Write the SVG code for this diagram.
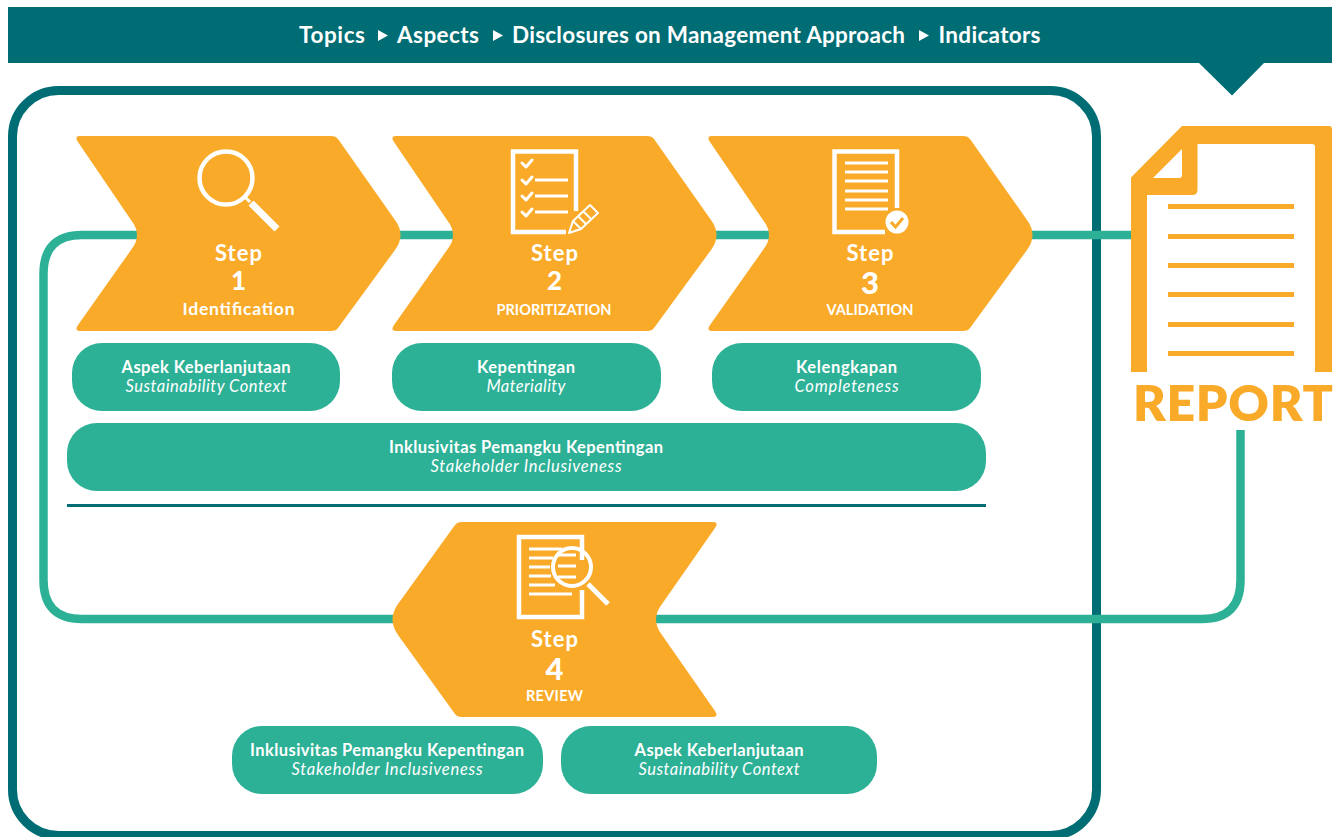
<svg xmlns="http://www.w3.org/2000/svg" width="1339" height="837" viewBox="0 0 1339 837">
<defs>
<style>
text{font-family:"Lato","Liberation Sans",sans-serif;fill:#fff;text-anchor:middle}
.hd{font-size:22.5px;font-weight:700}
.st{font-size:22px;font-weight:700}
.nm{font-size:26px;font-weight:900}
.nb{font-size:31px;font-weight:900}
.lb{font-size:17.5px;font-weight:700}
.lc{font-size:14.5px;font-weight:700}
.pb{font-size:16.5px;font-weight:700}
.pi{font-size:16.5px;font-style:italic}
.chev{fill:#f9aa28}
.pill{fill:#2db196}
.ic{fill:none;stroke:#fff;stroke-width:4.5}
.il{fill:none;stroke:#fff;stroke-width:3}
.ck{fill:none;stroke:#fff;stroke-width:3;stroke-linecap:round;stroke-linejoin:round}
.dl{fill:#f9aa28}
</style>
<path id="chevR" class="chev" d="M80,136H331Q336,136 338,139L395,220Q406,235 395,250L338,328Q336,331 331,331H80Q74,331 78,325L131,250Q143,235 131,220L78,142Q74,136 80,136Z"/>
</defs>
<rect id="frame" x="12.500" y="90.500" width="1084" height="745" rx="46" fill="none" stroke="#006d75" stroke-width="9"/>
<g id="connectors">
<path d="M1135,235H82Q43.500,235 43.500,274V580Q43.500,619 82,619H1202Q1240.500,619 1240.500,580V430" fill="none" stroke="#2db196" stroke-width="8.500"/>
</g>
<g id="header">
<rect x="8" y="7" width="1324" height="56" fill="#006d75"/>
<polygon points="1199,63 1264,63 1232,95.500" fill="#006d75"/>
<text class="hd" x="332" y="43" textLength="66" lengthAdjust="spacing">Topics</text>
<polygon points="378,30 378,41 388,35.500" fill="#fff"/>
<text class="hd" x="438" y="43" textLength="82" lengthAdjust="spacing">Aspects</text>
<polygon points="493,30 493,41 503,35.500" fill="#fff"/>
<text class="hd" x="708.500" y="43" textLength="393" lengthAdjust="spacing">Disclosures on Management Approach</text>
<polygon points="919,30 919,41 929,35.500" fill="#fff"/>
<text class="hd" x="989.500" y="43" textLength="102" lengthAdjust="spacing">Indicators</text>
</g>
<g id="step1">
<use href="#chevR"/>
<circle class="ic" cx="226" cy="178" r="26.500"/>
<path d="M245,197L250,202" fill="none" stroke="#fff" stroke-width="3"/>
<path d="M251,203L277,229" fill="none" stroke="#fff" stroke-width="7"/>
<text class="st" x="238.500" y="261" textLength="47" lengthAdjust="spacing">Step</text>
<text class="nm" x="238.500" y="290">1</text>
<text class="lb" x="238.500" y="315" textLength="112" lengthAdjust="spacing">Identification</text>
</g>
<g id="step2">
<use href="#chevR" x="316"/>
<path class="ic" d="M576,211V151.500H513V232H566"/>
<path class="ck" d="M522,163L526,167L532,160M522,180L526,184L532,177M522,196L526,200L532,193M522,212L526,216L532,209"/>
<path class="il" d="M535,180H568M535,196H568M535,212H568"/>
<path d="M569,233L573,221L590,205L598,213L581,229ZM573,221L581,229M578,216L586,224M583,211L591,219" fill="none" stroke="#fff" stroke-width="2" stroke-linejoin="round"/>
<text class="st" x="554.500" y="261" textLength="47" lengthAdjust="spacing">Step</text>
<text class="nm" x="554.500" y="290">2</text>
<text class="lc" x="554" y="315" textLength="115" lengthAdjust="spacing">PRIORITIZATION</text>
</g>
<g id="step3">
<use href="#chevR" x="632"/>
<path class="ic" d="M897,208V151.500H834.500V232H885"/>
<path class="il" d="M845,163H888M845,172H888M845,181H888M845,191H888M845,200H888M845,209H888"/>
<circle cx="897" cy="222" r="11.500" fill="#fff"/>
<path d="M891,222L895.500,227L903,218" fill="none" stroke="#f9aa28" stroke-width="3"/>
<text class="st" x="870" y="261" textLength="47" lengthAdjust="spacing">Step</text>
<text class="nb" x="870" y="294">3</text>
<text class="lc" x="870" y="315" textLength="87" lengthAdjust="spacing">VALIDATION</text>
</g>
<g id="step4">
<path class="chev" d="M713,522H462Q457,522 455,525L398,604Q387,619.500 398,635L455,714Q457,717 462,717H713Q719,717 715,711L662,635Q650,619.500 662,604L715,528Q719,522 713,522Z"/>
<path class="ic" d="M582,560V537H519V617H582V590"/>
<path class="il" d="M529,549H562M529,558H553M529,567H550M529,576H551M529,585H555M529,594H572M558,555H576M558,566H576M558,577H576"/>
<circle cx="572" cy="567" r="19" fill="none" stroke="#fff" stroke-width="4"/>
<path d="M588,584L608,604" fill="none" stroke="#fff" stroke-width="5"/>
<text class="st" x="554.500" y="647" textLength="47" lengthAdjust="spacing">Step</text>
<text class="nb" x="554.500" y="680">4</text>
<text class="lc" x="554.500" y="701" textLength="57" lengthAdjust="spacing">REVIEW</text>
</g>
<g id="pill1">
<rect class="pill" x="72" y="343" width="268" height="68" rx="30"/>
<text class="pb" x="206" y="373" textLength="169" lengthAdjust="spacing">Aspek Keberlanjutaan</text>
<text class="pi" x="206" y="392" textLength="161" lengthAdjust="spacing">Sustainability Context</text>
</g>
<g id="pill2">
<rect class="pill" x="392" y="343" width="269" height="68" rx="30"/>
<text class="pb" x="526" y="373" textLength="98" lengthAdjust="spacing">Kepentingan</text>
<text class="pi" x="526" y="392" textLength="79" lengthAdjust="spacing">Materiality</text>
</g>
<g id="pill3">
<rect class="pill" x="712" y="343" width="269" height="68" rx="30"/>
<text class="pb" x="846.500" y="373" textLength="101" lengthAdjust="spacing">Kelengkapan</text>
<text class="pi" x="846.500" y="392" textLength="104" lengthAdjust="spacing">Completeness</text>
</g>
<g id="pill4">
<rect class="pill" x="67" y="423" width="919" height="68" rx="30"/>
<text class="pb" x="526" y="453" textLength="274" lengthAdjust="spacing">Inklusivitas Pemangku Kepentingan</text>
<text class="pi" x="526" y="472" textLength="191" lengthAdjust="spacing">Stakeholder Inclusiveness</text>
</g>
<rect id="divider" x="67" y="504" width="919" height="3" fill="#006d75"/>
<g id="pill5">
<rect class="pill" x="232" y="726" width="311" height="68" rx="30"/>
<text class="pb" x="387" y="756" textLength="274" lengthAdjust="spacing">Inklusivitas Pemangku Kepentingan</text>
<text class="pi" x="387" y="775" textLength="191" lengthAdjust="spacing">Stakeholder Inclusiveness</text>
</g>
<g id="pill6">
<rect class="pill" x="561" y="726" width="316" height="68" rx="30"/>
<text class="pb" x="719" y="756" textLength="169" lengthAdjust="spacing">Aspek Keberlanjutaan</text>
<text class="pi" x="719" y="775" textLength="161" lengthAdjust="spacing">Sustainability Context</text>
</g>
<g id="report">
<path class="dl" fill-rule="evenodd" d="M1131,177.500L1182,126H1329Q1332,126 1332,129V372H1315V147Q1315,144 1312,144H1197.500V190Q1197.500,195 1192,195H1147V372H1131ZM1182,149L1153,178H1179Q1182,178 1182,175Z"/>
<path class="dl" d="M1168,204H1294V209H1168ZM1168,234H1294V239H1168ZM1168,263H1294V268H1168ZM1168,292H1294V297H1168ZM1168,322H1294V327H1168ZM1168,351H1294V356H1168Z"/>
<text x="1233" y="421" style="fill:#f9aa28;font-size:50px;font-weight:800" textLength="200" lengthAdjust="spacing">REPORT</text>
</g>
</svg>
